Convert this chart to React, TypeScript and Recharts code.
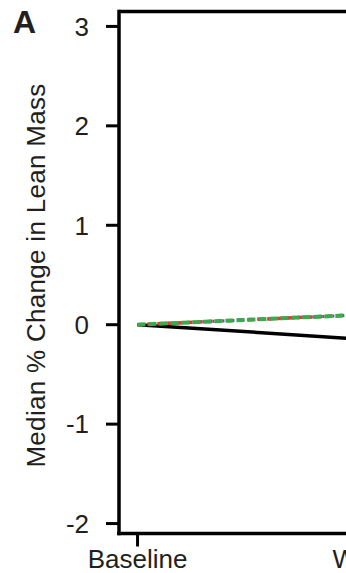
import { Line, LineChart, ReferenceLine, XAxis, YAxis } from "recharts";

// time points on the x axis (the second one is cut off at the right edge)
const TIMEPOINTS = ["Baseline", "Week 12"];

// median % change in lean mass per group
const GROUP_BLACK = [0, -0.16];
const GROUP_BLUE = [0, 0.11];
const GROUP_RED = [0, 0.11];
const GROUP_GREEN = [0, 0.11];

const Y_TICKS = [-2, -1, 0, 1, 2, 3];

const FONT = "'Liberation Sans', Arial, Helvetica, sans-serif";
const TEXT_COLOUR = "#231F20";

const data = TIMEPOINTS.map((t, i) => ({
  x: i,
  label: t,
  black: GROUP_BLACK[i],
  blue: GROUP_BLUE[i],
  red: GROUP_RED[i],
  green: GROUP_GREEN[i],
}));

const YLabel = (props: any) => {
  const vb = props.viewBox || {};
  const cx = 36;
  const cy = (vb.y ?? 11.5) + (vb.height ?? 522) / 2 + 3;
  return (
    <text
      x={cx}
      y={cy}
      transform={`rotate(-90, ${cx}, ${cy})`}
      textAnchor="middle"
      dominantBaseline="central"
      fill={TEXT_COLOUR}
      fontSize={26}
      letterSpacing={0.3}
      fontFamily={FONT}
    >
      Median % Change in Lean Mass
    </text>
  );
};

export default function App() {
  const tickStyle = { fill: TEXT_COLOUR, fontSize: 26, fontFamily: FONT };
  return (
    <div
      style={{
        position: "absolute",
        left: 0,
        top: 0,
        width: 346,
        height: 573,
        overflow: "hidden",
        background: "#fff",
      }}
    >
      <div
        style={{
          position: "absolute",
          left: 13,
          top: 6,
          fontFamily: FONT,
          fontWeight: 700,
          fontSize: 32,
          lineHeight: 1,
          color: TEXT_COLOUR,
        }}
      >
        A
      </div>
      <LineChart
        width={402}
        height={573}
        data={data}
        margin={{ top: 11.5, right: 0, left: 0, bottom: 0 }}
      >
        <XAxis
          dataKey="x"
          type="number"
          domain={[-0.0754, 1.0754]}
          ticks={[0, 1]}
          tickFormatter={(v) => TIMEPOINTS[v as number] ?? ""}
          height={39.5}
          tickSize={13}
          tickMargin={3}
          axisLine={{ stroke: "#000", strokeWidth: 3.5, strokeLinecap: "square" }}
          tickLine={{ stroke: "#000", strokeWidth: 3 }}
          tick={tickStyle}
          interval={0}
          allowDataOverflow
        />
        <YAxis
          type="number"
          domain={[-2.1, 3.15]}
          ticks={Y_TICKS}
          width={119}
          tickSize={13}
          tickMargin={17}
          axisLine={{ stroke: "#000", strokeWidth: 3.5, strokeLinecap: "square" }}
          tickLine={{ stroke: "#000", strokeWidth: 3 }}
          tick={tickStyle}
          interval={0}
          allowDataOverflow
          label={<YLabel />}
        />
        <ReferenceLine y={3.15} stroke="#000" strokeWidth={3.5} />
        <Line
          dataKey="black"
          stroke="#000"
          strokeWidth={3.5}
          dot={false}
          isAnimationActive={false}
        />
        <Line
          dataKey="blue"
          stroke="#3A5BC7"
          strokeWidth={3}
          strokeDasharray="2 3"
          dot={false}
          isAnimationActive={false}
        />
        <Line
          dataKey="red"
          stroke="#EE3338"
          strokeWidth={3.5}
          strokeDasharray="5 5"
          dot={false}
          isAnimationActive={false}
        />
        <Line
          dataKey="green"
          stroke="#3BAA4A"
          strokeWidth={4}
          strokeDasharray="8 3"
          dot={false}
          isAnimationActive={false}
        />
      </LineChart>
    </div>
  );
}
